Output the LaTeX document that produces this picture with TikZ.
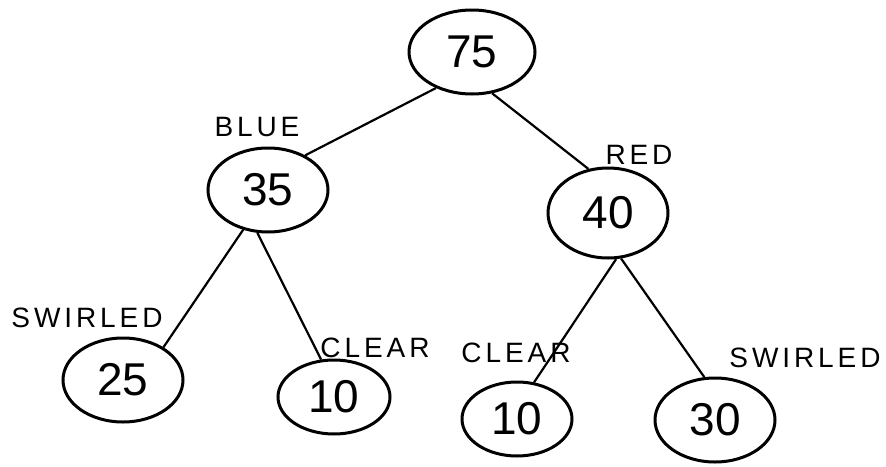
\documentclass[tikz,border=0pt]{standalone}
\usepackage{fontspec}
\setmainfont{Liberation Sans}
\usetikzlibrary{shapes.geometric}
\tikzset{
  treenode/.style={draw, ellipse, line width=3pt, inner sep=0pt, font=\fontsize{46}{50}\selectfont},
  edgelabel/.style={font=\fontsize{28}{32}\selectfont\addfontfeatures{LetterSpace=14}, inner sep=0pt},
  branch/.style={line width=2.2pt}
}
\begin{document}
\begin{tikzpicture}[x=1pt,y=-1pt]
\useasboundingbox (0,0) rectangle (886,466);
\node[treenode, minimum width=126pt, minimum height=84pt] (n75) at (472,52) {75};
\node[treenode, minimum width=120pt, minimum height=84pt] (n35) at (268,190) {35};
\node[treenode, minimum width=120pt, minimum height=90pt] (n40) at (608,213) {40};
\node[treenode, minimum width=120pt, minimum height=84pt] (n25) at (123,380) {25};
\node[treenode, minimum width=112pt, minimum height=74pt] (n10a) at (334,397) {10};
\node[treenode, minimum width=110pt, minimum height=74pt] (n10b) at (517,419) {10};
\node[treenode, minimum width=120pt, minimum height=84pt] (n30) at (715,420) {30};

\draw[branch] (n75.225) -- (n35.43);
\draw[branch] (n75.296) -- (n40.114);
\draw[branch] (n35.238) -- (n25.39);
\draw[branch] (n35.256) -- (n10a.109);
\draw[branch] (n40.280) -- (n10b.65);
\draw[branch] (n40.286) -- (n30.104);

\node[edgelabel] (lblue) at (257,127) {BLUE};
\node[edgelabel] (lred) at (639,155) {RED};
\node[edgelabel] (lsw1) at (87,318) {SWIRLED};
\node[edgelabel] (lcl1) at (375,348) {CLEAR};
\node[edgelabel] (lcl2) at (516,353) {CLEAR};
\node[edgelabel] (lsw2) at (805,358) {SWIRLED};
\end{tikzpicture}
\end{document}
